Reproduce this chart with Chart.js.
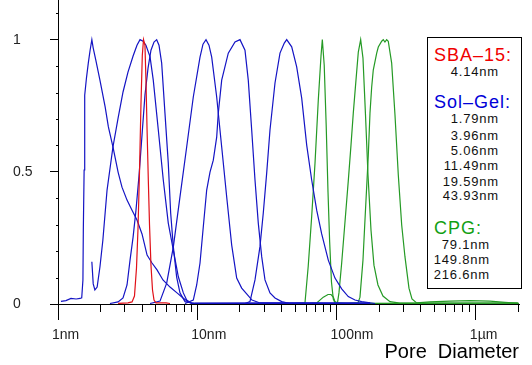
<!DOCTYPE html>
<html><head><meta charset="utf-8">
<script src="https://cdn.jsdelivr.net/npm/chart.js@4.4.0/dist/chart.umd.min.js"></script>
<style>
html,body{margin:0;padding:0;background:#fff;}
#wrap{position:relative;width:532px;height:365px;overflow:hidden;background:#fff;}
#c{position:absolute;left:0;top:0;}
#legend{position:absolute;left:427px;top:37px;width:93px;height:250px;border:1px solid #000;background:#fff;font-family:"Liberation Sans",Arial,sans-serif;}
.h{position:absolute;left:6px;white-space:nowrap;line-height:22px;font-size:18px;letter-spacing:1px;}
.v{position:absolute;white-space:nowrap;line-height:16px;font-size:13px;letter-spacing:0.8px;color:#111;text-align:right;}
.sg{right:22px;}
.cp{right:31px;}
</style>
</head><body>
<div id="wrap">
<canvas id="c" width="532" height="365"></canvas>
<div id="legend">
  <div class="h" style="top:6px;color:#f00000;">SBA–15:</div>
  <div class="v sg" style="top:26px;">4.14nm</div>
  <div class="h" style="top:53px;color:#0000d8;">Sol–Gel:</div>
  <div class="v sg" style="top:73px;">1.79nm</div>
  <div class="v sg" style="top:90px;">3.96nm</div>
  <div class="v sg" style="top:105px;">5.06nm</div>
  <div class="v sg" style="top:120px;">11.49nm</div>
  <div class="v sg" style="top:136px;">19.59nm</div>
  <div class="v sg" style="top:150px;">43.93nm</div>
  <div class="h" style="top:179px;color:#12a012;">CPG:</div>
  <div class="v cp" style="top:199px;">79.1nm</div>
  <div class="v cp" style="top:214px;">149.8nm</div>
  <div class="v cp" style="top:229px;">216.6nm</div>
</div>
</div>
<script>
// ---- axis ticks ----
const xMajor = [1, 10, 100, 1000];
const xMajorLabels = ['1nm', '10nm', '100nm', '1µm'];
const xMinor = [2,3,4,5,6,7,8,9,20,30,40,50,60,70,80,90,200,300,400,500,600,700,800,900,2000];
const yMajor = [0, 0.5, 1];
const yMajorLabels = ['0', '0.5', '1'];
const yMinor = [0.1,0.2,0.3,0.4,0.6,0.7,0.8,0.9,1.1];

// ---- SBA-15 4.14 nm ----
const sba414X = [2.70,3.18,3.40,3.54,3.66,3.75,3.85,3.94,4.03,4.11,4.21,4.28,4.36,4.45,4.54,4.65,4.77,4.89,5.05,5.96,6.37];
const sba414Y = [0.002,0.004,0.008,0.030,0.136,0.280,0.507,0.752,0.941,1.0,0.979,0.847,0.658,0.469,0.299,0.147,0.053,0.015,0.004,0.004,0.002];

// ---- Sol-Gel ----
const sg179X = [1.05,1.14,1.24,1.35,1.44,1.48,1.51,1.52,1.54,1.55,1.56,1.60,1.65,1.70,1.75,1.79,1.87,2.00,2.18,2.30,2.48,2.70,2.88,3.13,3.40,3.69,4.01,4.36,4.73,5.14,5.67,6.37,7.15,7.90,8.57,9.16,23.9,174];
const sg179Y = [0.010,0.013,0.021,0.019,0.021,0.023,0.091,0.280,0.507,0.696,0.790,0.854,0.911,0.960,1.0,0.968,0.922,0.847,0.746,0.670,0.594,0.499,0.442,0.393,0.355,0.318,0.265,0.185,0.155,0.129,0.091,0.064,0.042,0.023,0.009,0.002,0.003,0.002];

const sg396X = [1.75,1.79,1.84,1.91,2.00,2.10,2.25,2.48,2.70,2.93,3.18,3.46,3.69,3.88,4.08,4.28,4.58,4.83,5.25,5.70,6.19,6.73,7.31,7.94,8.39,9.12,174];
const sg396Y = [0.160,0.076,0.053,0.064,0.140,0.242,0.431,0.594,0.703,0.802,0.877,0.938,0.979,1.0,0.994,0.979,0.935,0.847,0.658,0.469,0.306,0.204,0.103,0.042,0.015,0.002,0.002];

const sg506X = [2.36,2.70,2.93,3.13,3.29,3.46,3.63,3.82,4.01,4.21,4.43,4.65,4.89,5.11,5.31,5.55,5.86,6.19,6.44,6.73,7.11,7.51,8.16,9.63,174];
const sg506Y = [0.002,0.008,0.023,0.072,0.166,0.253,0.355,0.488,0.639,0.790,0.892,0.960,0.991,1.0,0.979,0.911,0.722,0.533,0.344,0.216,0.102,0.042,0.009,0.002,0.002];

const sg1149X = [4.58,5.40,6.03,6.73,7.51,8.39,9.36,10.46,10.99,11.55,12.13,12.69,13.78,14.97,16.26,17.66,19.18,20.83,22.62,24.70,28.18,174];
const sg1149Y = [0.002,0.011,0.079,0.216,0.405,0.594,0.783,0.934,0.983,1.0,0.979,0.934,0.783,0.594,0.405,0.223,0.098,0.060,0.038,0.015,0.004,0.002];

const sg1959X = [8.16,9.36,9.90,10.46,10.99,11.68,12.34,13.03,13.78,14.15,14.97,16.69,18.65,20.26,22.00,23.23,24.58,25.96,27.41,29.00,30.62,33.26,36.13,40.36,46.30,174];
const sg1959Y = [0.002,0.015,0.072,0.155,0.280,0.431,0.499,0.544,0.631,0.722,0.847,0.949,0.991,1.0,0.960,0.847,0.658,0.469,0.306,0.179,0.091,0.042,0.023,0.009,0.002,0.002];

const sg4393X = [22.0,23.89,25.96,28.18,29.77,31.49,33.26,36.13,39.24,42.13,43.84,47.62,51.71,56.18,61.02,66.27,71.97,78.17,87.18,97.39,108.8,121.3,135.6,151.4,188.7];
const sg4393Y = [0.002,0.009,0.091,0.217,0.344,0.495,0.658,0.836,0.949,0.987,1.0,0.973,0.897,0.779,0.601,0.469,0.355,0.265,0.166,0.098,0.057,0.028,0.015,0.009,0.002];

// ---- CPG ----
const cpg791X = [50.3,59.3,62.6,66.3,70.0,73.9,77.3,79.0,81.5,84.2,86.8,89.2,91.9,94.7,97.4,115,2000];
const cpg791Y = [0.002,0.004,0.144,0.333,0.533,0.771,0.938,1.0,0.904,0.677,0.423,0.234,0.083,0.019,0.004,0.002,0.003];

const cpg1498X = [64.4,72.0,80.3,86.8,91.2,94.7,97.4,101.5,104.0,108.8,114.9,121.3,126.9,131.8,137.8,143.2,148.9,154.7,161.3,168.1,176.6,185.5,198.2,215.3,241.7,285.2,2000];
const cpg1498Y = [0.002,0.004,0.026,0.036,0.036,0.026,0.009,0.004,0.042,0.155,0.310,0.465,0.601,0.722,0.847,0.953,1.0,0.930,0.715,0.488,0.280,0.147,0.072,0.030,0.009,0.003,0.003];

const cpg2166X = [124.8,142.5,147.2,154.7,159.9,168.9,173.7,178.6,183.4,194.1,199.3,210.8,216.4,222.5,228.8,235.0,248.6,262.6,277.4,293.4,309.8,330.9,347.8,375.8,468.3,651.8,907.2,1262,1618,2039];
const cpg2166Y = [0.002,0.004,0.026,0.166,0.318,0.563,0.722,0.820,0.885,0.949,0.972,0.994,1.0,0.991,1.0,0.994,0.911,0.715,0.488,0.299,0.178,0.060,0.019,0.004,0.008,0.011,0.013,0.011,0.006,0.002];

const RED = '#e01018', BLUE = '#1414c4', GREEN = '#259a25';
const pts = (xs, ys) => xs.map((x, i) => ({x, y: ys[i]}));
const ds = (label, xs, ys, color) => ({label, data: pts(xs, ys), borderColor: color, borderWidth: 1.2, pointRadius: 0, fill: false, tension: 0});

const datasets = [
  ds('SBA-15 4.14nm', sba414X, sba414Y, RED),
  ds('Sol-Gel 1.79nm', sg179X, sg179Y, BLUE),
  ds('Sol-Gel 3.96nm', sg396X, sg396Y, BLUE),
  ds('Sol-Gel 5.06nm', sg506X, sg506Y, BLUE),
  ds('Sol-Gel 11.49nm', sg1149X, sg1149Y, BLUE),
  ds('Sol-Gel 19.59nm', sg1959X, sg1959Y, BLUE),
  ds('Sol-Gel 43.93nm', sg4393X, sg4393Y, BLUE),
  ds('CPG 79.1nm', cpg791X, cpg791Y, GREEN),
  ds('CPG 149.8nm', cpg1498X, cpg1498Y, GREEN),
  ds('CPG 216.6nm', cpg2166X, cpg2166Y, GREEN)
];

const minorTicks = {
  id: 'minorTicks',
  afterDraw(chart) {
    const {ctx, scales: {x, y}} = chart;
    ctx.save();
    ctx.strokeStyle = '#000';
    ctx.lineWidth = 1;
    ctx.beginPath();
    xMinor.forEach(v => {
      if (v > x.max) return;
      const px = Math.round(x.getPixelForValue(v)) + 0.5;
      ctx.moveTo(px, y.bottom);
      ctx.lineTo(px, y.bottom + 8);
    });
    yMinor.forEach(v => {
      const py = Math.round(y.getPixelForValue(v)) + 0.5;
      ctx.moveTo(x.left - 2, py);
      ctx.lineTo(x.left, py);
    });
    ctx.stroke();
    ctx.restore();
  }
};

const FONT = 'Liberation Sans';
new Chart(document.getElementById('c'), {
  type: 'line',
  data: {datasets},
  plugins: [minorTicks],
  options: {
    responsive: false,
    animation: false,
    events: [],
    layout: {padding: {left: 13, right: 13, top: 0, bottom: 0}},
    plugins: {legend: {display: false}, tooltip: {enabled: false}},
    scales: {
      x: {
        type: 'logarithmic', min: 1, max: 2040,
        border: {color: '#000', width: 1},
        grid: {drawOnChartArea: false, tickLength: 16, tickColor: '#000', tickWidth: 1},
        ticks: {
          autoSkip: false, maxRotation: 0, minRotation: 0, align: 'start', labelOffset: -6, padding: 7,
          color: '#222', font: {family: FONT, size: 14},
          callback: (v) => { const i = xMajor.indexOf(v); return i >= 0 ? xMajorLabels[i] : ''; }
        },
        afterBuildTicks: (s) => { s.ticks = xMajor.map(v => ({value: v})); },
        afterFit: (s) => { s.height = 61; s.paddingLeft = 0; s.paddingRight = 0; },
        title: {display: true, text: 'Pore  Diameter', align: 'end', color: '#000',
                font: {family: FONT, size: 20, lineHeight: 1}, padding: {top: 0, bottom: 3}}
      },
      y: {
        min: 0, max: 1.15,
        border: {color: '#000', width: 1},
        grid: {drawOnChartArea: false, tickLength: 8, tickColor: '#000', tickWidth: 1},
        ticks: {
          crossAlign: 'far', color: '#222', font: {family: FONT, size: 14},
          callback: (v) => { const i = yMajor.indexOf(v); return i >= 0 ? yMajorLabels[i] : ''; }
        },
        afterBuildTicks: (s) => { s.ticks = yMajor.map(v => ({value: v})); },
        afterFit: (s) => { s.width = 45; s.paddingTop = 0; s.paddingBottom = 0; }
      }
    }
  }
});
</script>
</body></html>
